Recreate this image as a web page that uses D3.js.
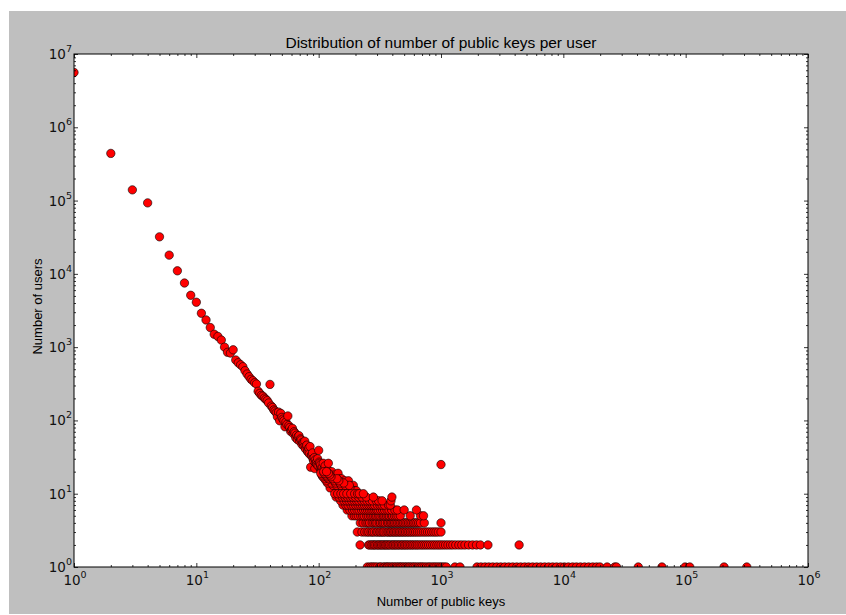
<!DOCTYPE html>
<html>
<head>
<meta charset="utf-8">
<script src="https://cdn.jsdelivr.net/npm/d3@7"></script>
<style>
  body { margin: 0; background: #fff; }
  svg { display: block; }
</style>
</head>
<body>
<svg></svg>
<script>
// keys per user vs how many users have that many keys

// steep part, one point per key count
const headPoints = [
  [1, 5600000], [2, 440000], [3, 140000], [4, 93000], [5, 32000], [6, 18000],
  [7, 11000], [8, 7500], [9, 5100], [10, 4100], [11, 2900], [12, 2350],
  [13, 1850], [14, 1500], [15, 1400], [16, 1250], [17, 1000], [18, 850],
  [19, 830], [20, 920], [21, 667], [22, 612], [23, 575], [24, 540],
  [25, 477], [26, 430], [27, 395], [28, 364], [29, 348], [30, 327],
  [31, 314], [32, 250], [33, 234], [34, 220], [35, 214], [36, 202],
  [37, 194], [38, 186], [39, 173], [40, 310], [41, 157], [42, 150],
  [43, 139], [44, 134], [45, 127], [46, 112], [47, 130], [48, 99],
  [49, 125], [50, 110], [51, 104], [52, 99], [53, 82], [54, 95],
  [55, 88], [56, 115]
];

// noisy band, counts above 10
const bandPoints = [
  [57, 85], [58, 80], [59, 71], [60, 74], [61, 78], [62, 66], [63, 70], [64, 67],
  [65, 58], [66, 63], [67, 55], [68, 60], [69, 62], [70, 52], [71, 56], [72, 54],
  [73, 47], [74, 50], [75, 49], [76, 44], [77, 52], [78, 41], [79, 45], [80, 46],
  [81, 38], [82, 37], [83, 42], [84, 35], [85, 44], [86, 23], [87, 33], [88, 34],
  [89, 36], [90, 30], [91, 28], [92, 31], [93, 22], [94, 29], [95, 26], [96, 27],
  [97, 25], [98, 30], [99, 24], [100, 39], [101, 27], [102, 26], [103, 22], [104, 25],
  [105, 21], [106, 21], [107, 23], [109, 26], [111, 22], [113, 24], [119, 21], [120, 26],
  [125, 19], [128, 20], [132, 16], [134, 18], [136, 15], [138, 16], [143, 17], [144, 19],
  [150, 16], [154, 16], [163, 15], [175, 15], [192, 13], [142, 15], [155, 14], [147, 13],
  [159, 13], [173, 12], [166, 12], [184, 11], [169, 11], [198, 11],
  [141, 11], [150, 11], [162, 11], [174, 11], [188, 11], [203, 11],
  [124, 12], [145, 12], [157, 12], [180, 12], [131, 13], [140, 13], [152, 13], [165, 13],
  [178, 13], [118, 14], [127, 14], [137, 14], [149, 14], [160, 14], [115, 15], [134, 15],
  [146, 15], [112, 16], [121, 16], [130, 16], [141, 16], [108, 17], [117, 17], [126, 17],
  [106, 18], [114, 18], [123, 18], [104, 19], [111, 19], [120, 19], [110, 20], [116, 20],
  [1000, 25]
];

// low counts form horizontal rows
const rowUsers = [1, 2, 3, 4, 5, 6, 7, 8, 9, 10];
const rowKeys = [
  [250, 262, 271, 280, 290, 301, 315, 322, 338, 347, 359, 366, 378, 391, 402, 415, 428, 441,
   455, 467, 480, 496, 512, 527, 545, 560, 580, 598, 617, 640, 662, 684, 705, 731, 760, 790,
   815, 850, 880, 912, 948, 985, 1020, 1062, 1105, 1300, 1430, 1970, 2120, 2290, 2460, 2650,
   2860, 3080, 3320, 3580, 3860, 4160, 4480, 4830, 5200, 5610, 6050, 6520, 7030, 7580, 8170,
   8800, 9490, 10200, 11000, 11900, 12800, 13800, 14900, 16100, 17400, 18700, 19900, 22800,
   26300, 27200, 41000, 64000, 99000, 108000, 206000, 316000],
  [218, 256, 263, 272, 279, 286, 294, 303, 311, 319, 327, 336, 344, 353, 362, 371, 381, 392,
   404, 413, 425, 437, 449, 462, 476, 488, 503, 517, 532, 549, 566, 583, 601, 622, 641, 663,
   688, 711, 737, 764, 792, 823, 856, 888, 925, 962, 1001, 1045, 1090, 1140, 1195, 1250,
   1320, 1400, 1480, 1570, 1680, 1810, 1950, 2100, 2420, 4350],
  [207, 226, 238, 249, 257, 268, 276, 285, 297, 305, 316, 324, 335, 343, 356, 368, 377, 388,
   398, 410, 421, 433, 446, 458, 471, 485, 499, 514, 530, 546, 563, 581, 600, 620, 642, 665,
   690, 718, 745, 775, 806, 840, 875, 910, 950, 1000],
  [219, 231, 244, 253, 261, 274, 283, 292, 300, 313, 321, 332, 341, 351, 365, 374, 386, 396,
   407, 418, 430, 443, 456, 469, 483, 496, 511, 527, 543, 560, 578, 596, 614, 635, 657, 680,
   730, 1000],
  [187, 196, 203, 211, 221, 229, 236, 247, 255, 265, 273, 282, 291, 299, 310, 318, 330, 339,
   348, 359, 370, 379, 393, 402, 417, 431, 446, 465, 560, 680, 720],
  [171, 180, 189, 197, 206, 214, 224, 233, 242, 251, 260, 269, 278, 288, 298, 307, 320, 333,
   346, 362, 376, 395, 420, 440, 500, 630],
  [158, 167, 174, 184, 192, 201, 210, 219, 228, 237, 247, 257, 267, 277, 287, 302, 317, 330,
   345, 372, 385],
  [151, 161, 169, 177, 186, 195, 204, 213, 225, 236, 248, 261, 275, 296, 309, 330, 390],
  [139, 147, 156, 164, 172, 181, 190, 200, 212, 226, 245, 280, 397],
  [135, 143, 152, 160, 170, 183, 197, 208, 215, 232]
];

const xExponents = ['0', '1', '2', '3', '4', '5', '6'];
const yExponents = ['0', '1', '2', '3', '4', '5', '6', '7'];

const title = 'Distribution of number of public keys per user';
const xTitle = 'Number of public keys';
const yTitle = 'Number of users';

// state object
const s = {
  width: 846,
  height: 615,
  left: 74,
  right: 808,
  top: 54,
  bottom: 567,
  r: 4.2,
};

window.onload = () => {
  const svg = d3.select('svg')
      .attr('width', s.width)
      .attr('height', s.height)
      .style('font-family', 'DejaVu Sans, sans-serif');

  svg.append('rect')
      .attr('x', 9).attr('y', 11)
      .attr('width', s.width - 9).attr('height', 603)
      .attr('fill', '#bfbfbf');

  svg.append('rect')
      .attr('x', s.left).attr('y', s.top)
      .attr('width', s.right - s.left).attr('height', s.bottom - s.top)
      .attr('fill', '#fff');

  const x = d3.scaleLog().domain([1, 1e6]).range([s.left, s.right]);
  const y = d3.scaleLog().domain([1, 1e7]).range([s.bottom, s.top]);

  const xMajor = xExponents.map(e => Math.pow(10, +e));
  const yMajor = yExponents.map(e => Math.pow(10, +e));
  const xMinor = x.ticks().filter(v => !xMajor.includes(v));
  const yMinor = y.ticks().filter(v => !yMajor.includes(v));

  // flatten everything into one list of [keys, users]
  const points = headPoints.concat(bandPoints);
  rowKeys.forEach((keys, i) => {
    keys.forEach(k => points.push([k, rowUsers[i]]));
  });

  svg.append('clipPath')
      .attr('id', 'plot-clip')
    .append('rect')
      .attr('x', s.left).attr('y', s.top)
      .attr('width', s.right - s.left).attr('height', s.bottom - s.top);

  svg.append('g')
      .attr('clip-path', 'url(#plot-clip)')
    .selectAll('circle')
    .data(points)
    .join('circle')
      .attr('cx', d => x(d[0]))
      .attr('cy', d => y(d[1]))
      .attr('r', s.r)
      .attr('fill', '#ff0000')
      .attr('stroke', '#000')
      .attr('stroke-width', 0.6);

  // inward ticks on all four sides
  function ticks(axis, values, size, transform) {
    const g = svg.append('g')
        .attr('transform', transform)
        .call(axis.tickValues(values).tickSize(-size).tickFormat(''));
    g.select('.domain').remove();
    g.selectAll('line').attr('stroke', '#000').attr('stroke-width', 0.8);
  }
  ticks(d3.axisBottom(x), xMajor, 4, `translate(0,${s.bottom})`);
  ticks(d3.axisBottom(x), xMinor, 2, `translate(0,${s.bottom})`);
  ticks(d3.axisTop(x), xMajor, 4, `translate(0,${s.top})`);
  ticks(d3.axisTop(x), xMinor, 2, `translate(0,${s.top})`);
  ticks(d3.axisLeft(y), yMajor, 4, `translate(${s.left},0)`);
  ticks(d3.axisLeft(y), yMinor, 2, `translate(${s.left},0)`);
  ticks(d3.axisRight(y), yMajor, 4, `translate(${s.right},0)`);
  ticks(d3.axisRight(y), yMinor, 2, `translate(${s.right},0)`);

  svg.append('rect')
      .attr('x', s.left).attr('y', s.top)
      .attr('width', s.right - s.left).attr('height', s.bottom - s.top)
      .attr('fill', 'none')
      .attr('stroke', '#000')
      .attr('stroke-width', 1);

  function powerLabel(sel, exps) {
    sel.each(function(d, i) {
      const t = d3.select(this);
      t.append('tspan').text('10');
      t.append('tspan').attr('dy', -7).attr('font-size', '9.5px').text(exps[i]);
    });
  }

  svg.append('g')
    .selectAll('text')
    .data(xMajor)
    .join('text')
      .attr('x', d => x(d) + 1)
      .attr('y', 585)
      .attr('text-anchor', 'middle')
      .attr('font-size', '13.5px')
      .attr('fill', '#111')
      .call(powerLabel, xExponents);

  svg.append('g')
    .selectAll('text')
    .data(yMajor)
    .join('text')
      .attr('x', 72)
      .attr('y', d => y(d) + 5)
      .attr('text-anchor', 'end')
      .attr('font-size', '13.5px')
      .attr('fill', '#111')
      .call(powerLabel, yExponents);

  svg.append('text')
      .attr('x', (s.left + s.right) / 2)
      .attr('y', 48)
      .attr('text-anchor', 'middle')
      .style('font-family', 'Liberation Sans, Arial, sans-serif')
      .attr('font-size', '15.5px')
      .text(title);

  svg.append('text')
      .attr('x', (s.left + s.right) / 2)
      .attr('y', 606)
      .attr('text-anchor', 'middle')
      .style('font-family', 'Liberation Sans, Arial, sans-serif')
      .attr('font-size', '13px')
      .text(xTitle);

  svg.append('text')
      .attr('transform', `translate(42,${(s.top + s.bottom) / 2 - 4}) rotate(-90)`)
      .attr('text-anchor', 'middle')
      .style('font-family', 'Liberation Sans, Arial, sans-serif')
      .attr('font-size', '13px')
      .text(yTitle);
};
</script>
</body>
</html>
